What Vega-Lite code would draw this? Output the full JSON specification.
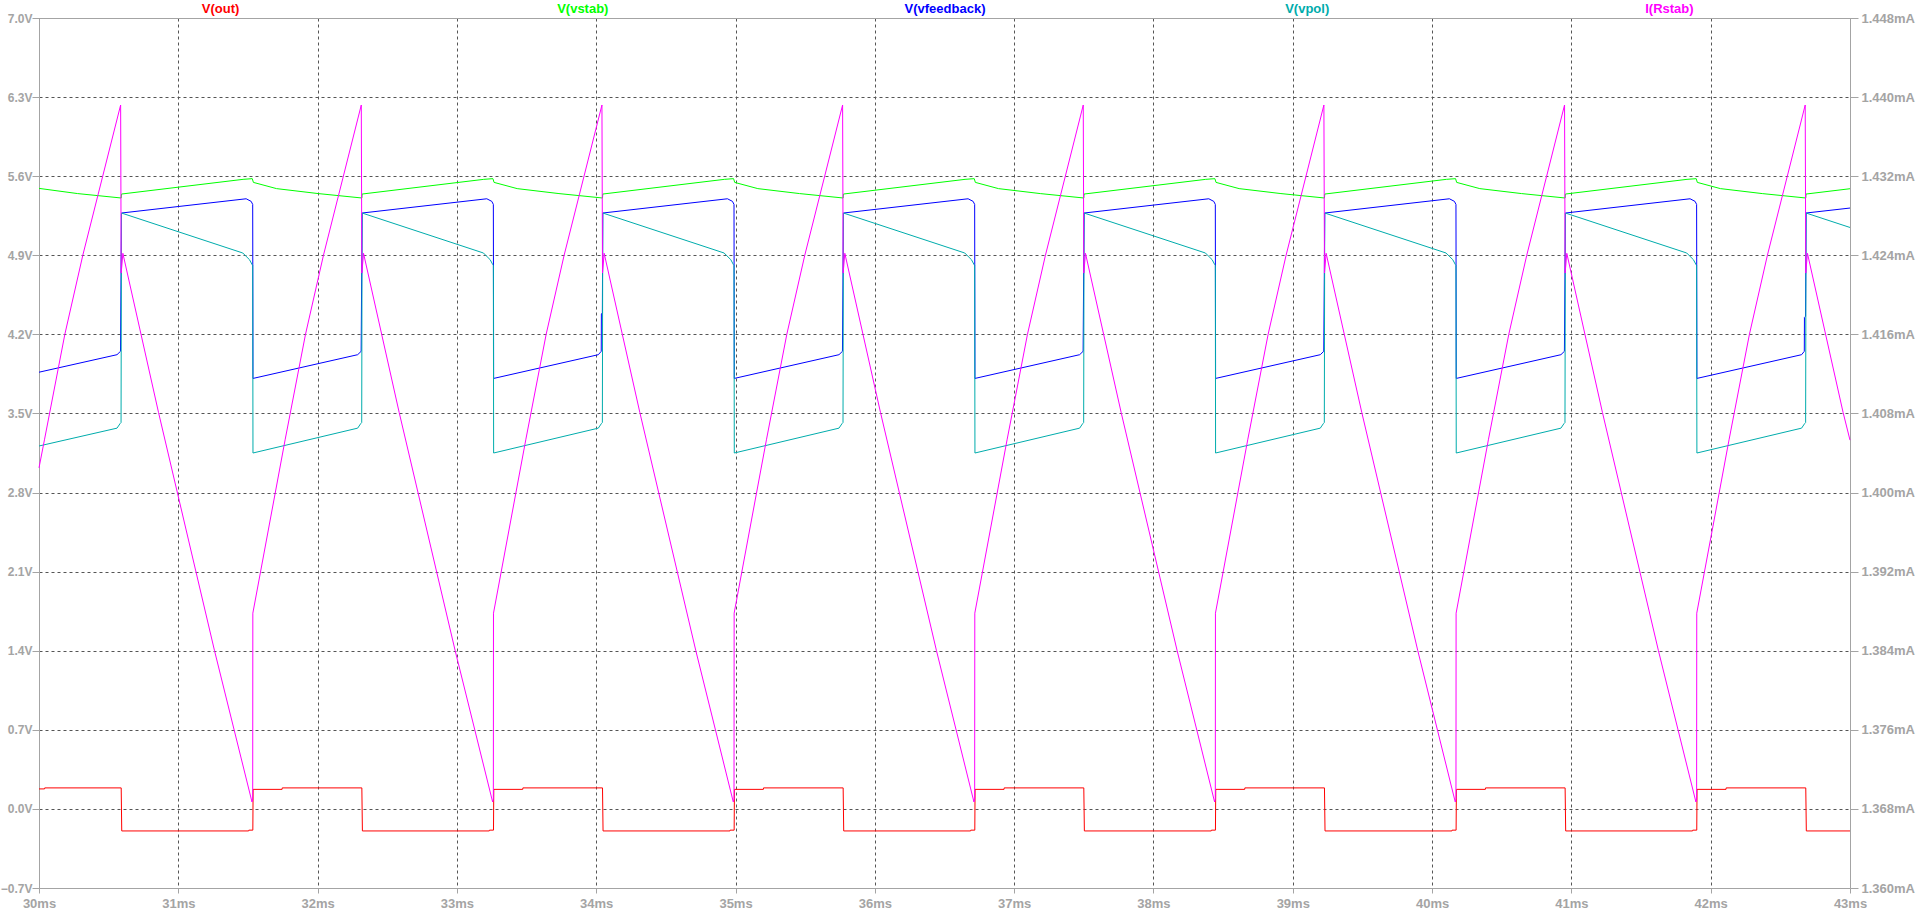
{
  "$schema": "https://vega.github.io/schema/vega-lite/v6.json",
  "width": 1811,
  "height": 870,
  "autosize": {"type": "none"},
  "padding": {"left": 39, "top": 18, "right": 68, "bottom": 31},
  "background": "white",
  "config": {
    "view": {"stroke": null},
    "axis": {
      "labelFont": "Liberation Sans",
      "labelFontSize": 13,
      "labelFontWeight": "bold",
      "labelColor": "#a4a4a4",
      "domainColor": "#a4a4a4",
      "tickColor": "#a4a4a4",
      "gridColor": "#555555",
      "gridDash": [3, 3],
      "gridOpacity": 1,
      "labelFlush": false,
      "labelOverlap": false
    }
  },
  "datasets": {
    "names": [
      {"s": "V(out)"}, {"s": "V(vstab)"}, {"s": "V(vfeedback)"}, {"s": "V(vpol)"}, {"s": "I(Rstab)"}
    ],
    "vout": [
      {"t": 30.0, "v": 0.177}, {"t": 30.04, "v": 0.177}, {"t": 30.041, "v": 0.186},
      {"t": 30.59, "v": 0.186}, {"t": 30.594, "v": -0.195}, {"t": 31.505, "v": -0.195}, {"t": 31.506, "v": -0.188}, {"t": 31.535, "v": -0.188}, {"t": 31.537, "v": 0.173}, {"t": 31.745, "v": 0.173}, {"t": 31.746, "v": 0.186},
      {"t": 32.3175, "v": 0.186}, {"t": 32.3215, "v": -0.195}, {"t": 33.2325, "v": -0.195}, {"t": 33.2335, "v": -0.188}, {"t": 33.2625, "v": -0.188}, {"t": 33.2645, "v": 0.173}, {"t": 33.4725, "v": 0.173}, {"t": 33.4735, "v": 0.186},
      {"t": 34.045, "v": 0.186}, {"t": 34.049, "v": -0.195}, {"t": 34.96, "v": -0.195}, {"t": 34.961, "v": -0.188}, {"t": 34.99, "v": -0.188}, {"t": 34.992, "v": 0.173}, {"t": 35.2, "v": 0.173}, {"t": 35.201, "v": 0.186},
      {"t": 35.7725, "v": 0.186}, {"t": 35.7765, "v": -0.195}, {"t": 36.6875, "v": -0.195}, {"t": 36.6885, "v": -0.188}, {"t": 36.7175, "v": -0.188}, {"t": 36.7195, "v": 0.173}, {"t": 36.9275, "v": 0.173}, {"t": 36.9285, "v": 0.186},
      {"t": 37.5, "v": 0.186}, {"t": 37.504, "v": -0.195}, {"t": 38.415, "v": -0.195}, {"t": 38.416, "v": -0.188}, {"t": 38.445, "v": -0.188}, {"t": 38.447, "v": 0.173}, {"t": 38.655, "v": 0.173}, {"t": 38.656, "v": 0.186},
      {"t": 39.2275, "v": 0.186}, {"t": 39.2315, "v": -0.195}, {"t": 40.1425, "v": -0.195}, {"t": 40.1435, "v": -0.188}, {"t": 40.1725, "v": -0.188}, {"t": 40.1745, "v": 0.173}, {"t": 40.3825, "v": 0.173}, {"t": 40.3835, "v": 0.186},
      {"t": 40.955, "v": 0.186}, {"t": 40.959, "v": -0.195}, {"t": 41.87, "v": -0.195}, {"t": 41.871, "v": -0.188}, {"t": 41.9, "v": -0.188}, {"t": 41.902, "v": 0.173}, {"t": 42.11, "v": 0.173}, {"t": 42.111, "v": 0.186},
      {"t": 42.6825, "v": 0.186}, {"t": 42.6865, "v": -0.195}, {"t": 43.0, "v": -0.195}
    ],
    "vstab": [
      {"t": 30.0, "v": 5.492}, {"t": 30.2775, "v": 5.446}, {"t": 30.59, "v": 5.407},
      {"t": 30.592, "v": 5.442}, {"t": 31.465, "v": 5.572}, {"t": 31.531, "v": 5.578}, {"t": 31.539, "v": 5.545}, {"t": 31.705, "v": 5.49}, {"t": 32.005, "v": 5.446}, {"t": 32.3175, "v": 5.407},
      {"t": 32.3195, "v": 5.442}, {"t": 33.1925, "v": 5.572}, {"t": 33.2585, "v": 5.578}, {"t": 33.2665, "v": 5.545}, {"t": 33.4325, "v": 5.49}, {"t": 33.7325, "v": 5.446}, {"t": 34.045, "v": 5.407},
      {"t": 34.047, "v": 5.442}, {"t": 34.92, "v": 5.572}, {"t": 34.986, "v": 5.578}, {"t": 34.994, "v": 5.545}, {"t": 35.16, "v": 5.49}, {"t": 35.46, "v": 5.446}, {"t": 35.7725, "v": 5.407},
      {"t": 35.7745, "v": 5.442}, {"t": 36.6475, "v": 5.572}, {"t": 36.7135, "v": 5.578}, {"t": 36.7215, "v": 5.545}, {"t": 36.8875, "v": 5.49}, {"t": 37.1875, "v": 5.446}, {"t": 37.5, "v": 5.407},
      {"t": 37.502, "v": 5.442}, {"t": 38.375, "v": 5.572}, {"t": 38.441, "v": 5.578}, {"t": 38.449, "v": 5.545}, {"t": 38.615, "v": 5.49}, {"t": 38.915, "v": 5.446}, {"t": 39.2275, "v": 5.407},
      {"t": 39.2295, "v": 5.442}, {"t": 40.1025, "v": 5.572}, {"t": 40.1685, "v": 5.578}, {"t": 40.1765, "v": 5.545}, {"t": 40.3425, "v": 5.49}, {"t": 40.6425, "v": 5.446}, {"t": 40.955, "v": 5.407},
      {"t": 40.957, "v": 5.442}, {"t": 41.83, "v": 5.572}, {"t": 41.896, "v": 5.578}, {"t": 41.904, "v": 5.545}, {"t": 42.07, "v": 5.49}, {"t": 42.37, "v": 5.446}, {"t": 42.6825, "v": 5.407},
      {"t": 42.6845, "v": 5.442}, {"t": 43.0, "v": 5.489}
    ],
    "vfeedback": [
      {"t": 30.0, "v": 3.865}, {"t": 30.56, "v": 4.02}, {"t": 30.585, "v": 4.05},
      {"t": 30.592, "v": 5.274}, {"t": 31.487, "v": 5.4}, {"t": 31.523, "v": 5.377}, {"t": 31.534, "v": 5.35}, {"t": 31.536, "v": 3.81}, {"t": 32.2875, "v": 4.02}, {"t": 32.3125, "v": 4.05},
      {"t": 32.3195, "v": 5.274}, {"t": 33.2145, "v": 5.4}, {"t": 33.2505, "v": 5.377}, {"t": 33.2615, "v": 5.35}, {"t": 33.2635, "v": 3.81}, {"t": 34.015, "v": 4.02}, {"t": 34.036, "v": 4.05}, {"t": 34.037, "v": 4.38}, {"t": 34.044, "v": 4.39},
      {"t": 34.047, "v": 5.274}, {"t": 34.942, "v": 5.4}, {"t": 34.978, "v": 5.377}, {"t": 34.989, "v": 5.35}, {"t": 34.991, "v": 3.81}, {"t": 35.7425, "v": 4.02}, {"t": 35.7675, "v": 4.05},
      {"t": 35.7745, "v": 5.274}, {"t": 36.6695, "v": 5.4}, {"t": 36.7055, "v": 5.377}, {"t": 36.7165, "v": 5.35}, {"t": 36.7185, "v": 3.81}, {"t": 37.47, "v": 4.02}, {"t": 37.495, "v": 4.05},
      {"t": 37.502, "v": 5.274}, {"t": 38.397, "v": 5.4}, {"t": 38.433, "v": 5.377}, {"t": 38.444, "v": 5.35}, {"t": 38.446, "v": 3.81}, {"t": 39.1975, "v": 4.02}, {"t": 39.2225, "v": 4.05},
      {"t": 39.2295, "v": 5.274}, {"t": 40.1245, "v": 5.4}, {"t": 40.1605, "v": 5.377}, {"t": 40.1715, "v": 5.35}, {"t": 40.1735, "v": 3.81}, {"t": 40.925, "v": 4.02}, {"t": 40.95, "v": 4.05},
      {"t": 40.957, "v": 5.274}, {"t": 41.852, "v": 5.4}, {"t": 41.888, "v": 5.377}, {"t": 41.899, "v": 5.35}, {"t": 41.901, "v": 3.81}, {"t": 42.6525, "v": 4.02}, {"t": 42.672, "v": 4.05}, {"t": 42.673, "v": 4.35}, {"t": 42.681, "v": 4.36},
      {"t": 42.6845, "v": 5.274}, {"t": 43.0, "v": 5.318}
    ],
    "vpol": [
      {"t": 30.0, "v": 3.212}, {"t": 30.56, "v": 3.37}, {"t": 30.582, "v": 3.41}, {"t": 30.589, "v": 3.42},
      {"t": 30.592, "v": 5.274}, {"t": 31.463, "v": 4.92}, {"t": 31.511, "v": 4.861}, {"t": 31.53, "v": 4.817}, {"t": 31.534, "v": 4.81}, {"t": 31.536, "v": 3.15}, {"t": 32.2875, "v": 3.37}, {"t": 32.3095, "v": 3.41}, {"t": 32.3165, "v": 3.42},
      {"t": 32.3195, "v": 5.274}, {"t": 33.1905, "v": 4.92}, {"t": 33.2385, "v": 4.861}, {"t": 33.2575, "v": 4.817}, {"t": 33.2615, "v": 4.81}, {"t": 33.2635, "v": 3.15}, {"t": 34.015, "v": 3.37}, {"t": 34.037, "v": 3.41}, {"t": 34.044, "v": 3.42},
      {"t": 34.047, "v": 5.274}, {"t": 34.918, "v": 4.92}, {"t": 34.966, "v": 4.861}, {"t": 34.985, "v": 4.817}, {"t": 34.989, "v": 4.81}, {"t": 34.991, "v": 3.15}, {"t": 35.7425, "v": 3.37}, {"t": 35.7645, "v": 3.41}, {"t": 35.7715, "v": 3.42},
      {"t": 35.7745, "v": 5.274}, {"t": 36.6455, "v": 4.92}, {"t": 36.6935, "v": 4.861}, {"t": 36.7125, "v": 4.817}, {"t": 36.7165, "v": 4.81}, {"t": 36.7185, "v": 3.15}, {"t": 37.47, "v": 3.37}, {"t": 37.492, "v": 3.41}, {"t": 37.499, "v": 3.42},
      {"t": 37.502, "v": 5.274}, {"t": 38.373, "v": 4.92}, {"t": 38.421, "v": 4.861}, {"t": 38.44, "v": 4.817}, {"t": 38.444, "v": 4.81}, {"t": 38.446, "v": 3.15}, {"t": 39.1975, "v": 3.37}, {"t": 39.2195, "v": 3.41}, {"t": 39.2265, "v": 3.42},
      {"t": 39.2295, "v": 5.274}, {"t": 40.1005, "v": 4.92}, {"t": 40.1485, "v": 4.861}, {"t": 40.1675, "v": 4.817}, {"t": 40.1715, "v": 4.81}, {"t": 40.1735, "v": 3.15}, {"t": 40.925, "v": 3.37}, {"t": 40.947, "v": 3.41}, {"t": 40.954, "v": 3.42},
      {"t": 40.957, "v": 5.274}, {"t": 41.828, "v": 4.92}, {"t": 41.876, "v": 4.861}, {"t": 41.895, "v": 4.817}, {"t": 41.899, "v": 4.81}, {"t": 41.901, "v": 3.15}, {"t": 42.6525, "v": 3.37}, {"t": 42.6745, "v": 3.41}, {"t": 42.6815, "v": 3.42},
      {"t": 42.6845, "v": 5.274}, {"t": 43.0, "v": 5.146}
    ],
    "rstab": [
      {"t": 30.0, "v": 1.4025}, {"t": 30.0401, "v": 1.4054}, {"t": 30.1855, "v": 1.416}, {"t": 30.3145, "v": 1.424}, {"t": 30.586, "v": 1.4392},
      {"t": 30.59, "v": 1.4222}, {"t": 30.602, "v": 1.4242}, {"t": 30.858, "v": 1.4081}, {"t": 31.26, "v": 1.384}, {"t": 31.529, "v": 1.3687}, {"t": 31.534, "v": 1.369}, {"t": 31.535, "v": 1.3878}, {"t": 31.7676, "v": 1.4054}, {"t": 31.913, "v": 1.416}, {"t": 32.042, "v": 1.424}, {"t": 32.3135, "v": 1.4392},
      {"t": 32.3175, "v": 1.4222}, {"t": 32.3295, "v": 1.4242}, {"t": 32.5855, "v": 1.4081}, {"t": 32.9875, "v": 1.384}, {"t": 33.2565, "v": 1.3687}, {"t": 33.2615, "v": 1.369}, {"t": 33.2625, "v": 1.3878}, {"t": 33.4951, "v": 1.4054}, {"t": 33.6405, "v": 1.416}, {"t": 33.7695, "v": 1.424}, {"t": 34.041, "v": 1.4392},
      {"t": 34.045, "v": 1.4222}, {"t": 34.057, "v": 1.4242}, {"t": 34.313, "v": 1.4081}, {"t": 34.715, "v": 1.384}, {"t": 34.984, "v": 1.3687}, {"t": 34.989, "v": 1.369}, {"t": 34.99, "v": 1.3878}, {"t": 35.2226, "v": 1.4054}, {"t": 35.368, "v": 1.416}, {"t": 35.497, "v": 1.424}, {"t": 35.7685, "v": 1.4392},
      {"t": 35.7725, "v": 1.4222}, {"t": 35.7845, "v": 1.4242}, {"t": 36.0405, "v": 1.4081}, {"t": 36.4425, "v": 1.384}, {"t": 36.7115, "v": 1.3687}, {"t": 36.7165, "v": 1.369}, {"t": 36.7175, "v": 1.3878}, {"t": 36.9501, "v": 1.4054}, {"t": 37.0955, "v": 1.416}, {"t": 37.2245, "v": 1.424}, {"t": 37.496, "v": 1.4392},
      {"t": 37.5, "v": 1.4222}, {"t": 37.512, "v": 1.4242}, {"t": 37.768, "v": 1.4081}, {"t": 38.17, "v": 1.384}, {"t": 38.439, "v": 1.3687}, {"t": 38.444, "v": 1.369}, {"t": 38.445, "v": 1.3878}, {"t": 38.6776, "v": 1.4054}, {"t": 38.823, "v": 1.416}, {"t": 38.952, "v": 1.424}, {"t": 39.2235, "v": 1.4392},
      {"t": 39.2275, "v": 1.4222}, {"t": 39.2395, "v": 1.4242}, {"t": 39.4955, "v": 1.4081}, {"t": 39.8975, "v": 1.384}, {"t": 40.1665, "v": 1.3687}, {"t": 40.1715, "v": 1.369}, {"t": 40.1725, "v": 1.3878}, {"t": 40.4051, "v": 1.4054}, {"t": 40.5505, "v": 1.416}, {"t": 40.6795, "v": 1.424}, {"t": 40.951, "v": 1.4392},
      {"t": 40.955, "v": 1.4222}, {"t": 40.967, "v": 1.4242}, {"t": 41.223, "v": 1.4081}, {"t": 41.625, "v": 1.384}, {"t": 41.894, "v": 1.3687}, {"t": 41.899, "v": 1.369}, {"t": 41.9, "v": 1.3878}, {"t": 42.1326, "v": 1.4054}, {"t": 42.278, "v": 1.416}, {"t": 42.407, "v": 1.424}, {"t": 42.6785, "v": 1.4392},
      {"t": 42.6825, "v": 1.4222}, {"t": 42.6945, "v": 1.4242}, {"t": 42.9505, "v": 1.4081}, {"t": 43.0, "v": 1.4053}
    ]
  },
  "layer": [
    {
      "encoding": {
        "x": {"field": "t", "type": "quantitative", "scale": {"domain": [30, 43], "nice": false, "zero": false},
          "axis": {"orient": "bottom", "title": null, "values": [30,31,32,33,34,35,36,37,38,39,40,41,42,43], "labelExpr": "datum.value + 'ms'", "grid": true, "tickSize": 5, "labelPadding": 4}},
        "y": {"field": "v", "type": "quantitative", "scale": {"domain": [-0.7, 7.0], "nice": false, "zero": false},
          "axis": {"orient": "left", "title": null, "values": [-0.7, 0, 0.7, 1.4, 2.1, 2.8, 3.5, 4.2, 4.9, 5.6, 6.3, 7.0], "labelExpr": "format(datum.value, '.1f') + 'V'", "grid": true, "tickSize": 7, "labelPadding": 0, "labelFontSize": 12}}
      },
      "layer": [
        {"data": {"name": "vout"}, "mark": {"type": "line", "color": "#ff0000", "strokeWidth": 1}},
        {"data": {"name": "vstab"}, "mark": {"type": "line", "color": "#00ff00", "strokeWidth": 1}},
        {"data": {"name": "vfeedback"}, "mark": {"type": "line", "color": "#0000ff", "strokeWidth": 1}},
        {"data": {"name": "vpol"}, "mark": {"type": "line", "color": "#00acac", "strokeWidth": 1}}
      ]
    },
    {
      "data": {"name": "rstab"},
      "mark": {"type": "line", "color": "#ff00ff", "strokeWidth": 1},
      "encoding": {
        "x": {"field": "t", "type": "quantitative", "scale": {"domain": [30, 43], "nice": false, "zero": false}, "axis": null},
        "y": {"field": "v", "type": "quantitative", "scale": {"domain": [1.36, 1.448], "nice": false, "zero": false},
          "axis": {"orient": "right", "title": null, "values": [1.36, 1.368, 1.376, 1.384, 1.392, 1.4, 1.408, 1.416, 1.424, 1.432, 1.44, 1.448], "labelExpr": "format(datum.value, '.3f') + 'mA'", "grid": false, "tickSize": 8, "labelPadding": 3}}
      }
    },
    {
      "data": {"name": "names"},
      "mark": {"type": "point", "opacity": 0},
      "encoding": {
        "x": {"field": "s", "type": "nominal", "sort": null,
          "scale": {"type": "point", "padding": 0.5, "domain": ["V(out)", "V(vstab)", "V(vfeedback)", "V(vpol)", "I(Rstab)"]},
          "axis": {"orient": "top", "title": null, "ticks": false, "tickSize": 0, "grid": false, "labelAngle": 0, "labelPadding": 3, "labelFontSize": 13,
            "labelColor": {"condition": [
              {"test": "datum.value === 'V(out)'", "value": "#ff0000"},
              {"test": "datum.value === 'V(vstab)'", "value": "#00ff00"},
              {"test": "datum.value === 'V(vfeedback)'", "value": "#0000ff"},
              {"test": "datum.value === 'V(vpol)'", "value": "#00acac"}
            ], "value": "#ff00ff"}}
        }
      }
    }
  ],
  "resolve": {"scale": {"x": "independent", "y": "independent"}}
}
